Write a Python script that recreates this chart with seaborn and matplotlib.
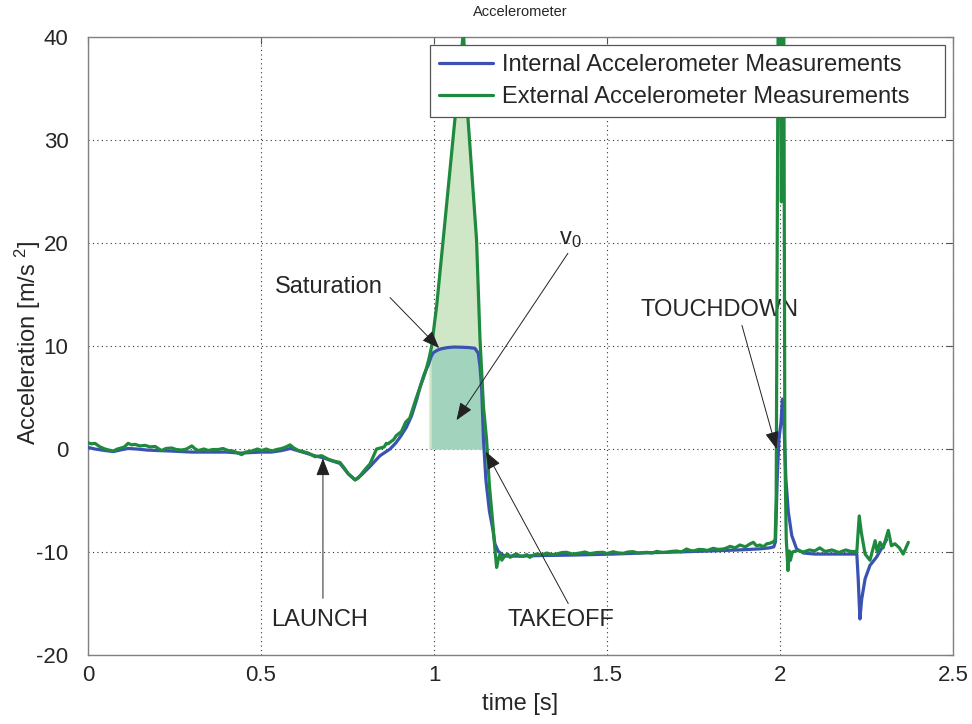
import numpy as np
import pandas as pd
import matplotlib
matplotlib.use("Agg")
import matplotlib.pyplot as plt
import seaborn as sns

# ---------------- data ----------------
t_internal = [0.000, 0.020, 0.050, 0.073, 0.100, 0.116, 0.140, 0.170, 0.200, 0.240,
              0.270, 0.300, 0.350, 0.400, 0.440, 0.470, 0.500, 0.530, 0.560, 0.585,
              0.610, 0.640, 0.660, 0.680, 0.700, 0.728, 0.752, 0.772, 0.791, 0.815,
              0.844, 0.873, 0.890, 0.905, 0.920, 0.935, 0.950, 0.960, 0.972, 0.984,
              0.992, 0.998, 1.010, 1.022, 1.040, 1.058, 1.080, 1.100, 1.118, 1.128,
              1.133, 1.138, 1.143, 1.150, 1.160, 1.170, 1.176, 1.185, 1.195, 1.205,
              1.250, 1.300, 1.400, 1.520, 1.600, 1.700, 1.800, 1.880, 1.940, 1.970,
              1.982, 1.987, 1.992, 1.997, 2.003, 2.007, 2.011, 2.017, 2.024, 2.034,
              2.048, 2.068, 2.100, 2.222, 2.226, 2.231, 2.236, 2.246, 2.260, 2.279,
              2.298, 2.308]
a_internal = [0.15, 0.00, -0.15, -0.25, -0.05, 0.05, 0.00, -0.10, -0.15, -0.20,
              -0.25, -0.30, -0.30, -0.30, -0.40, -0.35, -0.30, -0.30, -0.15, 0.05,
              -0.20, -0.50, -0.70, -0.85, -1.10, -1.40, -2.40, -3.00, -2.50, -1.70,
              -0.65, 0.00, 0.60, 1.30, 2.10, 3.20, 4.80, 6.05, 7.30, 8.20,
              9.00, 9.35, 9.60, 9.74, 9.85, 9.90, 9.88, 9.85, 9.78, 9.30,
              8.00, 5.70, 0.90, -3.00, -6.00, -7.80, -9.20, -9.90, -10.20, -10.40,
              -10.40, -10.35, -10.30, -10.20, -10.10, -10.00, -9.90, -9.80, -9.70, -9.60,
              -9.50, -9.00, -2.90, 1.00, 2.60, 4.85, 2.90, -2.90, -6.10, -8.40,
              -9.70, -10.10, -10.20, -10.20, -12.60, -16.50, -14.60, -12.60, -11.30, -10.50,
              -9.40, -8.80]

t_external = [0.000, 0.010, 0.020, 0.035, 0.049, 0.060, 0.073, 0.085, 0.092, 0.105,
              0.116, 0.126, 0.136, 0.150, 0.165, 0.180, 0.194, 0.205, 0.213, 0.225,
              0.242, 0.255, 0.271, 0.285, 0.300, 0.310, 0.319, 0.335, 0.348, 0.360,
              0.377, 0.390, 0.405, 0.420, 0.444, 0.455, 0.473, 0.490, 0.502, 0.515,
              0.531, 0.545, 0.560, 0.572, 0.584, 0.595, 0.608, 0.622, 0.637, 0.656,
              0.675, 0.695, 0.714, 0.728, 0.742, 0.752, 0.762, 0.772, 0.782, 0.791,
              0.803, 0.815, 0.825, 0.834, 0.845, 0.856, 0.862, 0.867, 0.873, 0.883,
              0.891, 0.906, 0.918, 0.930, 0.950, 0.962, 0.974, 0.985, 0.993, 1.008,
              1.030, 1.061, 1.085, 1.098, 1.123, 1.133, 1.143, 1.152, 1.160, 1.1715,
              1.176, 1.181, 1.186, 1.191, 1.196, 1.205, 1.213, 1.220, 1.230, 1.239,
              1.248, 1.258, 1.268, 1.277, 1.287, 1.297, 1.310, 1.326, 1.340, 1.355,
              1.370, 1.383, 1.400, 1.422, 1.436, 1.451, 1.470, 1.489, 1.500, 1.518,
              1.530, 1.547, 1.560, 1.576, 1.590, 1.615, 1.630, 1.644, 1.660, 1.672,
              1.685, 1.701, 1.715, 1.730, 1.740, 1.750, 1.765, 1.778, 1.790, 1.807,
              1.820, 1.836, 1.846, 1.856, 1.870, 1.884, 1.900, 1.913, 1.923, 1.932,
              1.942, 1.952, 1.962, 1.971, 1.981, 1.986, 1.989, 1.992, 1.995, 2.001,
              2.004, 2.007, 2.011, 2.014, 2.018, 2.023, 2.027, 2.030, 2.036, 2.050,
              2.068, 2.085, 2.100, 2.115, 2.130, 2.150, 2.170, 2.190, 2.205, 2.222,
              2.229, 2.235, 2.246, 2.260, 2.275, 2.281, 2.289, 2.298, 2.313, 2.322,
              2.332, 2.345, 2.356, 2.371]
a_external = [0.60, 0.50, 0.55, 0.20, 0.00, -0.10, -0.20, 0.00, 0.06, 0.20,
              0.55, 0.40, 0.45, 0.30, 0.35, 0.20, 0.25, 0.00, -0.15, 0.05,
              0.10, -0.05, -0.10, 0.00, 0.30, 0.00, -0.15, 0.00, -0.15, -0.05,
              -0.05, 0.05, -0.15, -0.20, -0.55, -0.30, -0.20, 0.00, -0.15, 0.00,
              -0.20, -0.05, 0.05, 0.20, 0.40, 0.10, -0.15, -0.25, -0.40, -0.75,
              -0.65, -1.00, -1.20, -1.30, -1.90, -2.40, -2.70, -3.00, -2.80, -2.40,
              -1.90, -1.45, -0.70, 0.00, 0.10, 0.20, 0.55, 0.50, 0.65, 0.90,
              1.30, 1.70, 2.60, 3.00, 5.08, 6.20, 7.35, 8.70, 9.93, 14.00,
              21.50, 32.20, 40.50, 32.20, 20.30, 10.60, 4.10, 0.90, -3.50, -7.80,
              -9.70, -11.50, -10.70, -10.20, -10.80, -10.35, -10.20, -10.52, -10.30, -10.19,
              -10.40, -10.42, -10.25, -10.52, -10.30, -10.19, -10.30, -10.10, -10.25, -10.19,
              -10.05, -10.03, -10.20, -10.10, -10.00, -10.16, -10.05, -10.03, -10.15, -9.97,
              -10.08, -10.13, -10.00, -9.97, -10.10, -10.03, -10.10, -9.94, -10.05, -10.03,
              -9.95, -9.90, -10.00, -9.71, -9.85, -9.90, -9.75, -9.77, -9.85, -9.64,
              -9.75, -9.71, -9.60, -9.45, -9.60, -9.32, -9.50, -9.22, -9.06, -9.40,
              -9.32, -9.50, -9.20, -9.15, -9.00, -8.80, -4.50, 20.00, 45.00, 45.00,
              24.00, 45.00, 42.00, 0.00, -8.70, -11.80, -9.90, -10.80, -10.00, -9.85,
              -10.00, -9.80, -9.90, -9.60, -9.95, -9.80, -10.05, -9.80, -9.95, -9.95,
              -6.50, -8.10, -10.20, -10.80, -8.90, -10.00, -9.06, -9.60, -7.90, -9.40,
              -9.20, -9.60, -10.20, -9.06]

series_labels = ["Internal Accelerometer Measurements", "External Accelerometer Measurements"]
x_ticks = [0, 0.5, 1, 1.5, 2, 2.5]
x_tick_labels = ["0", "0.5", "1", "1.5", "2", "2.5"]
y_ticks = [-20, -10, 0, 10, 20, 30, 40]
y_tick_labels = ["-20", "-10", "0", "10", "20", "30", "40"]
ext_window = (0.985, 1.152)   # integration window, external
int_window = (0.992, 1.147)   # integration window, internal

# ---------------- style ----------------
sns.set_theme(style="white")
plt.rcParams["font.family"] = ["Liberation Sans", "DejaVu Sans"]
plt.rcParams["mathtext.fontset"] = "custom"
plt.rcParams["mathtext.rm"] = "Liberation Sans"
plt.rcParams["mathtext.it"] = "Liberation Sans"

BLUE = "#3a53b2"
GREEN = "#1f8a3e"
LIGHT = "#cfe7c7"
DARK = "#a2d3bc"
TXT = "#262626"

fig = plt.figure(figsize=(9.72, 7.24), dpi=100)
ax = fig.add_axes([88 / 972, 1 - 655 / 724, 865 / 972, 618 / 724])

df_int = pd.DataFrame({"t": t_internal, "a": a_internal})
df_ext = pd.DataFrame({"t": t_external, "a": a_external})

# filled areas
ti, ai = np.array(t_internal), np.array(a_internal)
te, ae = np.array(t_external), np.array(a_external)
me = (te >= ext_window[0]) & (te <= ext_window[1])
mi = (ti >= int_window[0]) & (ti <= int_window[1])
ax.fill_between(te[me], 0, ae[me], color=LIGHT, lw=0, zorder=1)
ax.fill_between(ti[mi], 0, ai[mi], color=DARK, lw=0, zorder=1.1)

sns.lineplot(data=df_int, x="t", y="a", ax=ax, color=BLUE, lw=2.3, sort=False,
             estimator=None, label=series_labels[0], zorder=3)
sns.lineplot(data=df_ext, x="t", y="a", ax=ax, color=GREEN, lw=2.3, sort=False,
             estimator=None, label=series_labels[1], zorder=4)

ax.set_xlim(0, 2.5)
ax.set_ylim(-20, 40)
ax.set_xticks(x_ticks)
ax.set_xticklabels(x_tick_labels)
ax.set_yticks(y_ticks)
ax.set_yticklabels(y_tick_labels)
ax.tick_params(direction="in", length=5, width=0.8, color="#555555", labelsize=16,
               labelcolor=TXT, top=True, right=True)
ax.tick_params(axis="x", pad=7)
ax.tick_params(axis="y", pad=14)
ax.grid(True, linestyle=(0, (1, 3)), color="#333333", lw=0.8)
for s in ax.spines.values():
    s.set_color("#808080")
    s.set_linewidth(1.0)

ax.set_title("Accelerometer", fontsize=10.5, color=TXT, y=(655 - 12) / 618,
             va="center", pad=0)
ax.set_xlabel("time [s]", fontsize=17, color=TXT)
ax.xaxis.set_label_coords(0.5, (655 - 704) / 618)
ax.xaxis.label.set_va("center")
ax.set_ylabel(r"Acceleration [m/s $^{2}$]", fontsize=17, color=TXT)
ax.yaxis.set_label_coords((28 - 88) / 865, (655 - 343) / 618)
ax.yaxis.label.set_va("center")

# annotations
arrow = dict(arrowstyle="-|>,head_length=0.9,head_width=0.35", color="#222222",
             lw=0.7, shrinkA=0, shrinkB=0, mutation_scale=12)
ann_font = dict(fontsize=17, color=TXT)
ax.text(0.540, 15.7, "Saturation", ha="left", va="center", **ann_font)
ax.annotate("", xy=(1.015, 9.8), xytext=(0.873, 14.7), arrowprops=arrow, zorder=6)
ax.text(1.362, 20.4, r"v$_{\mathregular{0}}$", ha="left", va="center", **ann_font)
ax.annotate("", xy=(1.065, 2.8), xytext=(1.387, 19.0), arrowprops=arrow, zorder=6)
ax.text(1.824, 13.5, "TOUCHDOWN", ha="center", va="center", **ann_font)
ax.annotate("", xy=(1.990, 0.0), xytext=(1.890, 12.0), arrowprops=arrow, zorder=6)
ax.text(0.668, -16.6, "LAUNCH", ha="center", va="center", **ann_font)
ax.annotate("", xy=(0.679, -0.9), xytext=(0.679, -14.5), arrowprops=arrow, zorder=6)
ax.text(1.367, -16.6, "TAKEOFF", ha="center", va="center", **ann_font)
ax.annotate("", xy=(1.150, -0.26), xytext=(1.388, -15.0), arrowprops=arrow, zorder=6)

leg = ax.legend(loc="upper left",
                bbox_to_anchor=((430 - 88) / 865, (655 - 117) / 618,
                                (945 - 430) / 865, (117 - 45) / 618),
                mode="expand", borderaxespad=0, fontsize=17, frameon=True,
                fancybox=False, handlelength=2.25, handletextpad=0.4,
                labelspacing=0.4, borderpad=0.4, framealpha=1)
leg.get_frame().set_edgecolor("#555555")
leg.get_frame().set_linewidth(0.9)
leg.set_zorder(10)
for txt in leg.get_texts():
    txt.set_color(TXT)

fig.savefig("out.png", dpi=100)
